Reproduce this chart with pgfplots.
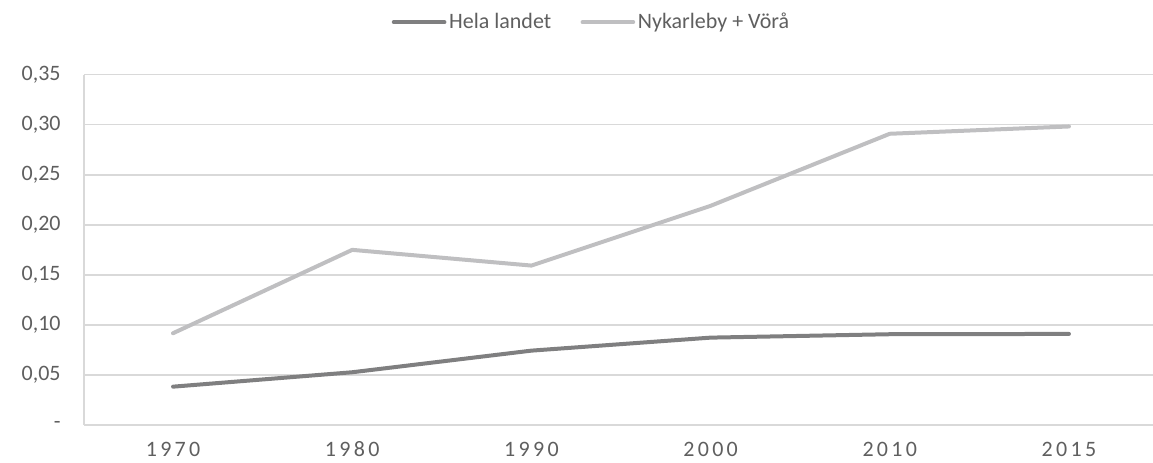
\documentclass[border=0pt]{standalone}
\usepackage{fontspec}
\setmainfont{Carlito}
\newfontfamily\spaced[LetterSpace=15]{Carlito}
\usepackage{pgfplots}
\pgfplotsset{compat=1.18}
\definecolor{darkline}{HTML}{7F7F80}
\definecolor{lightline}{HTML}{BFBFC1}
\definecolor{gridc}{HTML}{D9D9D9}
\definecolor{textc}{HTML}{5F5F5F}
\begin{document}
\begin{tikzpicture}
\useasboundingbox (0,0) rectangle (864.75pt,347.25pt);
\begin{axis}[
  at={(63pt,28.5pt)}, anchor=south west, scale only axis,
  width=801.75pt, height=262.7pt,
  xmin=-0.497, xmax=5.469, ymin=0, ymax=0.35,
  xtick={0,1,2,3,4,5},
  xticklabels={1970,1980,1990,2000,2010,2015},
  ytick={0,0.05,0.10,0.15,0.20,0.25,0.30,0.35},
  yticklabels={{-\hspace{7.5pt}},{0,05},{0,10},{0,15},{0,20},{0,25},{0,30},{0,35}},
  ymajorgrids,
  grid style={color=gridc, line width=1.1pt},
  axis x line*=bottom, axis y line*=left,
  axis line style={color=gridc, line width=1.1pt, -},
  major tick length=0pt,
  tick style={draw=none},
  ticklabel style={color=textc},
  yticklabel style={font=\fontsize{16.5}{19}\selectfont, xshift=-14pt},
  xticklabel style={font=\fontsize{16.5}{19}\spaced, anchor=north, text height=10.5pt, text depth=0pt, yshift=-9.5pt},
  legend columns=2,
  legend style={at={(0.475,1.150)}, anchor=center, draw=none, fill=none,
    font=\fontsize{16.5}{19}\selectfont, text=textc,
    /tikz/every even column/.append style={column sep=20pt}},
  legend image code/.code={\draw[#1, line cap=round] (0pt,0pt) -- (38pt,0pt);},
]
\addplot[color=darkline, line width=3pt, line cap=round, line join=round] coordinates {
  (0,0.0383) (1,0.0527) (2,0.0743) (3,0.0873) (4,0.0907) (5,0.0910)
};
\addlegendentry{Hela landet}
\addplot[color=lightline, line width=3pt, line cap=round, line join=round] coordinates {
  (0,0.0917) (1,0.1750) (2,0.1593) (3,0.2190) (4,0.2910) (5,0.2983)
};
\addlegendentry{Nykarleby + Vörå}
\end{axis}
\end{tikzpicture}
\end{document}
